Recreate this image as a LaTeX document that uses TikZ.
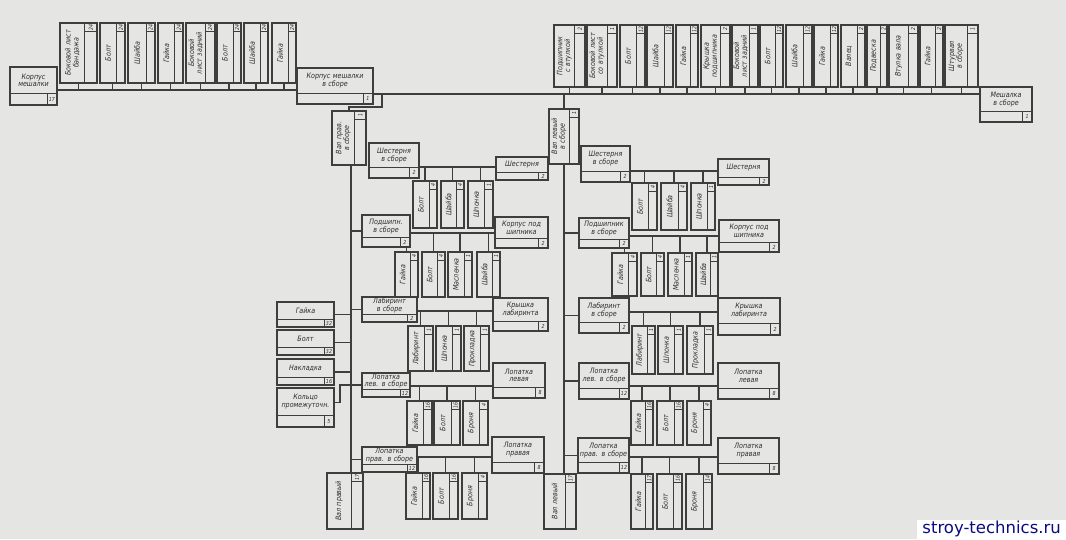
\documentclass[tikz,border=0pt]{standalone}
\usepackage{fontspec}
\setmainfont{DejaVu Sans}[FakeStretch=0.86]
\newfontfamily\wmfont{DejaVu Sans}
\usetikzlibrary{calc}
\definecolor{bgc}{RGB}{229,229,227}
\definecolor{ln}{RGB}{62,62,62}
\definecolor{tx}{RGB}{45,45,45}
\definecolor{wm}{RGB}{10,10,130}
\tikzset{
  frame/.style={draw=ln, line width=1.1pt, inner sep=0pt, outer sep=0pt, rectangle},
  inner/.style={draw=ln, line width=0.85pt},
  conn/.style={draw=ln, line width=1.1pt},
  lbl/.style={text=tx, font=\fontsize{7.4}{7.8}\selectfont\itshape, inner sep=0pt, align=center},
  numst/.style={text=tx, font=\fontsize{5.5}{6}\selectfont\itshape, inner sep=0pt},
}
% horizontal box: name, x1, y1, x2, y2, text, number
\newcommand{\hbx}[7]{%
  \pgfmathsetmacro{\hbH}{#5-#3}%
  \pgfmathsetmacro{\hbS}{max(8,0.3*\hbH)}%
  \pgfmathsetlengthmacro{\hbW}{(#4-#2)*1pt}%
  \pgfmathsetlengthmacro{\hbHH}{(#5-#3)*1pt}%
  \pgfmathsetlengthmacro{\hbTW}{(#4-#2-3)*1pt}%
  \node[frame, minimum width=\hbW, minimum height=\hbHH] (#1) at ({(#2+#4)/2},{(#3+#5)/2}) {};
  \draw[inner] (#2,{#5-\hbS}) -- (#4,{#5-\hbS});
  \draw[inner] ({#4-10},{#5-\hbS}) -- ({#4-10},#5);
  \node[lbl, text width=\hbTW] at ({(#2+#4)/2},{(#3+#5-\hbS)/2}) {#6};
  \node[numst] at ({#4-5},{#5-\hbS/2}) {#7};
}
% vertical box: name, x1, y1, x2, y2, text, number
\newcommand{\vbx}[7]{%
  \pgfmathsetmacro{\vbW}{#4-#2}%
  \pgfmathsetmacro{\vbN}{\vbW/3}%
  \pgfmathsetlengthmacro{\vbWW}{(#4-#2)*1pt}%
  \pgfmathsetlengthmacro{\vbHH}{(#5-#3)*1pt}%
  \pgfmathsetlengthmacro{\vbTW}{(#5-#3-6)*1pt}%
  \node[frame, minimum width=\vbWW, minimum height=\vbHH] (#1) at ({(#2+#4)/2},{(#3+#5)/2}) {};
  \draw[inner] ({#4-\vbN},#3) -- ({#4-\vbN},#5);
  \draw[inner] ({#4-\vbN},{#3+8}) -- (#4,{#3+8});
  \node[lbl, rotate=90, text width=\vbTW] at ({(#2+#4-\vbN)/2},{(#3+#5)/2}) {#6};
  \node[numst, rotate=90] at ({#4-\vbN/2},{#3+4}) {#7};
  \coordinate (#1-s) at ({#2+0.75*(\vbW-\vbN)},#3);
  \coordinate (#1-b) at ({#2+0.75*(\vbW-\vbN)},#5);
}
\begin{document}
\begin{tikzpicture}[x=1pt,y=-1pt]
\fill[bgc] (0,0) rectangle (1066,539);
\useasboundingbox (0,0) rectangle (1066,539);

% ---------- top left group ----------
\hbx{k17}{10}{67}{57}{105}{Корпус мешалки}{17}
\vbx{L1}{60}{23}{97}{83}{Боковой лист бандажа}{24}
\vbx{L2}{100}{23}{125}{83}{Болт}{24}
\vbx{L3}{128}{23}{155}{83}{Шайба}{24}
\vbx{L4}{158}{23}{183}{83}{Гайка}{24}
\vbx{L5}{186}{23}{215}{83}{Боковой лист задний}{24}
\vbx{L6}{217}{23}{241}{83}{Болт}{24}
\vbx{L7}{244}{23}{268}{83}{Шайба}{24}
\vbx{L8}{272}{23}{296}{83}{Гайка}{24}
\hbx{k1}{297}{68}{373}{104}{Корпус мешалки в сборе}{1}
\hbx{m1}{980}{87}{1032}{122}{Мешалка в сборе}{1}

% ---------- top right group ----------
\vbx{R1}{554}{25}{585}{87}{Подшипник с втулкой}{2}
\vbx{R2}{587}{25}{617}{87}{Боковой лист со втулкой}{1}
\vbx{R3}{620}{25}{645}{87}{Болт}{12}
\vbx{R4}{647}{25}{673}{87}{Шайба}{12}
\vbx{R5}{676}{25}{698}{87}{Гайка}{12}
\vbx{R6}{701}{25}{730}{87}{Крышка подшипника}{2}
\vbx{R7}{732}{25}{758}{87}{Боковой лист задний}{1}
\vbx{R8}{760}{25}{783}{87}{Болт}{12}
\vbx{R9}{786}{25}{812}{87}{Шайба}{12}
\vbx{R10}{814}{25}{838}{87}{Гайка}{12}
\vbx{R11}{841}{25}{865}{87}{Валец}{2}
\vbx{R12}{867}{25}{887}{87}{Подвеска}{2}
\vbx{R13}{889}{25}{918}{87}{Втулка вала}{2}
\vbx{R14}{920}{25}{943}{87}{Гайка}{2}
\vbx{R15}{945}{25}{978}{87}{Штурвал в сборе}{1}

\coordinate (bTL) at (0,90);
\coordinate (bM) at (0,94);
\draw[conn] (k17.east |- bTL) -- (k1.west |- bTL);
\foreach \p in {L1,L2,L3,L4,L5,L6,L7,L8} \draw[conn] (\p-b) -- (\p-b |- bTL);
\draw[conn] (k1.east |- bM) -- (m1.west |- bM);
\foreach \p in {R1,R2,R3,R4,R5,R6,R7,R8,R9,R10,R11,R12,R13,R14,R15} \draw[conn] (\p-b) -- (\p-b |- bM);

% ---------- left column ----------
\vbx{vp}{332}{111}{366}{165}{Вал прав. в сборе}{1}
\draw[conn] (k1.east |- bM) ++(9,0) -- ++(0,13) -| (vp.north);
\hbx{sh1}{369}{143}{419}{178}{Шестерня в сборе}{2}
\hbx{sh2}{496}{157}{548}{180}{Шестерня}{2}
\vbx{a1}{413}{181}{437}{228}{Болт}{4}
\vbx{a2}{441}{181}{464}{228}{Шайба}{4}
\vbx{a3}{468}{181}{493}{228}{Шпонка}{1}
\hbx{pd1}{362}{215}{410}{247}{Подшипн. в сборе}{2}
\hbx{kp1}{495}{217}{548}{248}{Корпус под\\шипника}{2}
\vbx{b1}{395}{252}{418}{297}{Гайка}{4}
\vbx{b2}{422}{252}{445}{297}{Болт}{4}
\vbx{b3}{448}{252}{472}{297}{Масленка}{1}
\vbx{b4}{477}{252}{500}{297}{Шайба}{1}
\hbx{lb1}{362}{297}{417}{322}{Лабиринт в сборе}{2}
\hbx{kl1}{493}{298}{548}{331}{Крышка\\лабиринта}{2}
\vbx{c1}{408}{326}{433}{371}{Лабиринт}{1}
\vbx{c2}{436}{326}{461}{371}{Шпонка}{1}
\vbx{c3}{464}{326}{489}{371}{Прокладка}{1}
\hbx{g32}{277}{302}{334}{327}{Гайка}{32}
\hbx{b32}{277}{330}{334}{355}{Болт}{32}
\hbx{n16}{277}{359}{334}{385}{Накладка}{16}
\hbx{kp5}{277}{388}{334}{427}{Кольцо промежуточн.}{5}
\hbx{ll1}{362}{373}{410}{397}{Лопатка лев. в сборе}{12}
\hbx{lL1}{493}{363}{545}{398}{Лопатка\\левая}{8}
\vbx{d1}{407}{401}{432}{445}{Гайка}{16}
\vbx{d2}{434}{401}{460}{445}{Болт}{16}
\vbx{d3}{463}{401}{488}{445}{Броня}{4}
\hbx{lp1}{362}{447}{417}{472}{Лопатка прав. в сборе}{12}
\hbx{lP1}{492}{437}{544}{473}{Лопатка\\правая}{8}
\vbx{e1}{406}{473}{430}{519}{Гайка}{16}
\vbx{e2}{433}{473}{458}{519}{Болт}{16}
\vbx{e3}{462}{473}{487}{519}{Броня}{4}
\vbx{vpr}{327}{473}{363}{529}{Вал правый}{17}

\coordinate (spL) at (351,0);
\draw[conn] (spL |- vp.south) -- (spL |- vpr.north);
\draw[conn] (spL |- pd1.west) -- (pd1.west);
\draw[conn] (spL |- lb1.west) -- (lb1.west);
\draw[conn] (spL |- lp1.west) -- (lp1.west);
\draw[conn] (g32.east) -- (g32.east -| spL);
\draw[conn] (b32.east) -- (b32.east -| spL);
\draw[conn] (n16.east) -- (n16.east -| spL);
\draw[conn] (kp5.east) ++(0,-5) -- ++(6,0) |- (ll1.west);

\coordinate (y1) at (0,167);
\draw[conn] (sh1.east |- y1) -- (sh2.west |- y1);
\foreach \p in {a1,a2,a3} \draw[conn] (\p-s) -- (\p-s |- y1);
\coordinate (y2) at (0,233);
\draw[conn] (pd1.east |- y2) -- (kp1.west |- y2);
\draw[conn] (b1-s) -- (b1-s |- pd1.south);
\foreach \p in {b2,b3,b4} \draw[conn] (\p-s) -- (\p-s |- y2);
\coordinate (y3) at (0,311);
\draw[conn] (lb1.east |- y3) -- (kl1.west |- y3);
\foreach \p in {c1,c2,c3} \draw[conn] (\p-s) -- (\p-s |- y3);
\coordinate (y4) at (0,386);
\draw[conn] (ll1.east |- y4) -- (lL1.west |- y4);
\foreach \p in {d1,d2,d3} \draw[conn] (\p-s) -- (\p-s |- y4);
\coordinate (y5) at (0,457);
\draw[conn] (lp1.east |- y5) -- (lP1.west |- y5);
\foreach \p in {e1,e2,e3} \draw[conn] (\p-s) -- (\p-s |- y5);

% ---------- right column ----------
\vbx{vl}{549}{109}{579}{164}{Вал левый в сборе}{1}
\hbx{sh3}{581}{146}{630}{182}{Шестерня в сборе}{2}
\hbx{sh4}{718}{159}{769}{185}{Шестерня}{2}
\vbx{f1}{632}{183}{657}{230}{Болт}{4}
\vbx{f2}{661}{183}{687}{230}{Шайба}{4}
\vbx{f3}{691}{183}{715}{230}{Шпонка}{1}
\hbx{pd2}{579}{218}{629}{248}{Подшипник в сборе}{2}
\hbx{kp2}{719}{220}{779}{252}{Корпус под\\шипника}{2}
\vbx{h1}{612}{253}{637}{296}{Гайка}{4}
\vbx{h2}{641}{253}{664}{296}{Болт}{4}
\vbx{h3}{668}{253}{692}{296}{Масленка}{1}
\vbx{h4}{696}{253}{718}{296}{Шайба}{1}
\hbx{lb2}{579}{298}{629}{333}{Лабиринт в сборе}{2}
\hbx{kl2}{718}{298}{780}{335}{Крышка\\лабиринта}{2}
\vbx{i1}{632}{326}{655}{374}{Лабиринт}{1}
\vbx{i2}{658}{326}{683}{374}{Шпонка}{1}
\vbx{i3}{687}{326}{713}{374}{Прокладка}{1}
\hbx{ll2}{579}{363}{629}{399}{Лопатка лев. в сборе}{12}
\hbx{lL2}{718}{363}{779}{399}{Лопатка\\левая}{8}
\vbx{j1}{631}{401}{653}{445}{Гайка}{16}
\vbx{j2}{657}{401}{683}{445}{Болт}{16}
\vbx{j3}{687}{401}{711}{445}{Броня}{4}
\hbx{lp2}{578}{438}{629}{473}{Лопатка прав. в сборе}{12}
\hbx{lP2}{718}{438}{779}{474}{Лопатка\\правая}{8}
\vbx{k1p}{631}{474}{653}{529}{Гайка}{17}
\vbx{k2p}{657}{474}{682}{529}{Болт}{16}
\vbx{k3p}{686}{474}{712}{529}{Броня}{14}
\vbx{vl2}{544}{474}{576}{529}{Вал левый}{17}

\coordinate (spR) at (564,0);
\draw[conn] (spR |- bM) -- (spR |- vl.north);
\draw[conn] (spR |- vl.south) -- (spR |- vl2.north);
\draw[conn] (spR |- sh3.west) -- (sh3.west);
\draw[conn] (spR |- pd2.west) -- (pd2.west);
\draw[conn] (spR |- lb2.west) -- (lb2.west);
\draw[conn] (spR |- ll2.west) -- (ll2.west);
\draw[conn] (spR |- lp2.west) -- (lp2.west);

\coordinate (z1) at (0,171);
\draw[conn] (sh3.east |- z1) -- (sh4.west |- z1);
\foreach \p in {f1,f2,f3} \draw[conn] (\p-s) -- (\p-s |- z1);
\coordinate (z2) at (0,236);
\draw[conn] (pd2.east |- z2) -- (kp2.west |- z2);
\draw[conn] (h1-s) -- (h1-s |- pd2.south);
\foreach \p in {h2,h3,h4} \draw[conn] (\p-s) -- (\p-s |- z2);
\coordinate (z3) at (0,312);
\draw[conn] (lb2.east |- z3) -- (kl2.west |- z3);
\foreach \p in {i1,i2,i3} \draw[conn] (\p-s) -- (\p-s |- z3);
\coordinate (z4) at (0,386);
\draw[conn] (ll2.east |- z4) -- (lL2.west |- z4);
\foreach \p in {j1,j2,j3} \draw[conn] (\p-s) -- (\p-s |- z4);
\coordinate (z5) at (0,457);
\draw[conn] (lp2.east |- z5) -- (lP2.west |- z5);
\foreach \p in {k1p,k2p,k3p} \draw[conn] (\p-s) -- (\p-s |- z5);

% watermark
\node[anchor=south east, fill=white, inner xsep=5pt, inner ysep=1.5pt, text=wm, font=\wmfont\fontsize{16.5}{17}\selectfont] (wmk) at (1066,539) {stroy-technics.ru};
\end{tikzpicture}
\end{document}
